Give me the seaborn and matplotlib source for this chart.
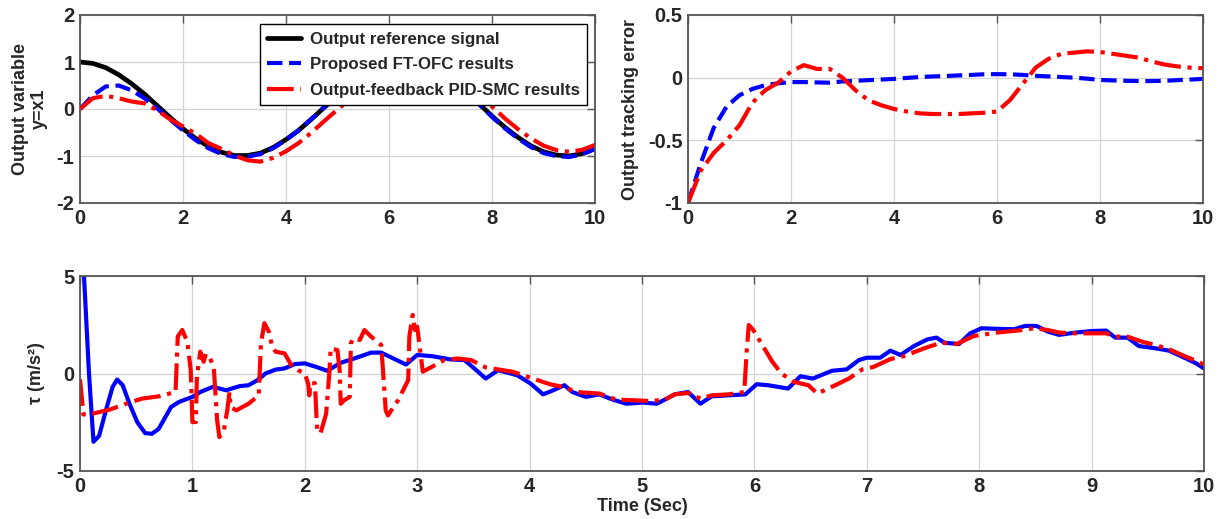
import numpy as np
import pandas as pd
import matplotlib
matplotlib.use("Agg")
import matplotlib.pyplot as plt
import seaborn as sns

# ---------------- data ----------------
t_top = np.linspace(0, 10, 41)

ref_signal = [1.00, 0.97, 0.88, 0.73, 0.54, 0.32, 0.07, -0.18, -0.42, -0.63, -0.80,
              -0.92, -0.99, -0.99, -0.94, -0.82, -0.65, -0.45, -0.21, 0.04, 0.28,
              0.51, 0.71, 0.86, 0.96, 1.00, 0.98, 0.90, 0.75, 0.57, 0.35, 0.11,
              -0.15, -0.39, -0.60, -0.78, -0.91, -0.98, -1.00, -0.95, -0.84]

y_ftofc = [0.00, 0.29, 0.48, 0.50, 0.40, 0.23, 0.01, -0.225, -0.455, -0.665, -0.838,
           -0.96, -1.02, -1.015, -0.96, -0.835, -0.66, -0.452, -0.205, 0.05, 0.293,
           0.528, 0.732, 0.887, 0.988, 1.027, 1.002, 0.915, 0.76, 0.575, 0.35, 0.102,
           -0.168, -0.412, -0.625, -0.807, -0.937, -1.005, -1.02, -0.965, -0.85]

y_pidsmc = [0.00, 0.23, 0.28, 0.23, 0.16, 0.12, -0.03, -0.22, -0.37, -0.53, -0.73,
            -0.85, -0.99, -1.09, -1.12, -1.04, -0.90, -0.72, -0.495, -0.25, -0.01,
            0.22, 0.425, 0.58, 0.69, 0.82, 0.93, 0.98, 0.90, 0.76, 0.55, 0.32,
            0.055, -0.20, -0.425, -0.62, -0.78, -0.875, -0.91, -0.87, -0.765]

e_ftofc = [-1.00, -0.68, -0.40, -0.23, -0.14, -0.09, -0.06, -0.045, -0.035, -0.035, -0.038,
           -0.04, -0.03, -0.025, -0.02, -0.015, -0.01, -0.002, 0.005, 0.01, 0.013,
           0.018, 0.022, 0.027, 0.028, 0.027, 0.022, 0.015, 0.01, 0.005, 0.0, -0.008,
           -0.018, -0.022, -0.025, -0.027, -0.027, -0.025, -0.02, -0.015, -0.01]

e_pidsmc = [-1.00, -0.74, -0.60, -0.50, -0.38, -0.20, -0.10, -0.04, 0.05, 0.10, 0.07,
            0.07, 0.00, -0.10, -0.18, -0.22, -0.25, -0.27, -0.285, -0.29, -0.29,
            -0.29, -0.285, -0.28, -0.27, -0.18, -0.05, 0.08, 0.15, 0.19, 0.20, 0.21,
            0.205, 0.19, 0.175, 0.16, 0.13, 0.105, 0.09, 0.08, 0.075]

t_tau_ftofc = [0, 0.08, 0.12, 0.17, 0.23, 0.29, 0.33, 0.38, 0.44, 0.51, 0.58, 0.64, 0.70,
               0.76, 0.81, 0.88, 1.00, 1.07, 1.18, 1.24, 1.30, 1.42, 1.50, 1.58, 1.65,
               1.74, 1.82, 1.91, 2.00, 2.10, 2.20, 2.32, 2.44, 2.59, 2.68, 2.77, 2.90,
               3.00, 3.13, 3.30, 3.42, 3.50, 3.61, 3.72, 3.89, 4.01, 4.12, 4.21, 4.31,
               4.38, 4.50, 4.62, 4.74, 4.86, 5.01, 5.13, 5.20, 5.29, 5.41, 5.52, 5.62,
               5.77, 5.92, 6.02, 6.12, 6.30, 6.41, 6.52, 6.69, 6.82, 6.93, 7.00, 7.12,
               7.21, 7.30, 7.42, 7.54, 7.62, 7.69, 7.82, 7.92, 8.02, 8.16, 8.31, 8.41,
               8.51, 8.61, 8.71, 8.86, 9.01, 9.13, 9.21, 9.32, 9.42, 9.57, 9.69, 9.84,
               9.93, 10.0]
tau_ftofc = [9.0, 0.0, -3.5, -3.2, -1.9, -0.69, -0.31, -0.6, -1.55, -2.5, -3.06, -3.09, -2.84,
             -2.23, -1.72, -1.46, -1.2, -0.95, -0.69, -0.77, -0.86, -0.65, -0.6, -0.34, 0.0,
             0.2, 0.26, 0.48, 0.52, 0.34, 0.14, 0.55, 0.77, 1.07, 1.07, 0.82, 0.46,
             0.95, 0.89, 0.72, 0.69, 0.30, -0.26, 0.17, -0.09, -0.52, -1.07, -0.86, -0.6,
             -0.95, -1.2, -1.07, -1.34, -1.55, -1.49, -1.55, -1.35, -1.07, -0.95, -1.55, -1.17,
             -1.12, -1.07, -0.55, -0.6, -0.77, -0.14, -0.26, 0.14, 0.21, 0.69, 0.81, 0.81,
             1.17, 0.95, 1.41, 1.75, 1.84, 1.58, 1.51, 2.06, 2.32, 2.29, 2.27, 2.44,
             2.44, 2.15, 1.98, 2.10, 2.18, 2.20, 1.84, 1.84, 1.41, 1.29, 1.17, 0.77,
             0.52, 0.26]

t_tau_pidsmc = [0, 0.03, 0.11, 0.26, 0.41, 0.55, 0.70, 0.85, 0.87, 0.91, 0.955, 0.985, 1.00,
                1.03, 1.04, 1.07, 1.10, 1.12, 1.15, 1.19, 1.22, 1.24, 1.28, 1.31, 1.33,
                1.34, 1.39, 1.50, 1.59, 1.61, 1.64, 1.68, 1.71, 1.74, 1.82, 1.88, 1.94,
                2.00, 2.03, 2.04, 2.05, 2.09, 2.11, 2.14, 2.19, 2.22, 2.23, 2.29, 2.31,
                2.32, 2.35, 2.40, 2.41, 2.43, 2.49, 2.53, 2.59, 2.68, 2.72, 2.74, 2.83,
                2.92, 2.93, 2.96, 2.98, 3.00, 3.05, 3.13, 3.24, 3.36, 3.48, 3.61, 3.85,
                4.03, 4.18, 4.30, 4.42, 4.62, 4.77, 4.92, 5.07, 5.20, 5.29, 5.41, 5.52,
                5.62, 5.77, 5.91, 5.93, 5.95, 5.99, 6.07, 6.16, 6.24, 6.35, 6.48, 6.56,
                6.72, 6.84, 6.96, 7.06, 7.21, 7.33, 7.51, 7.66, 7.80, 7.95, 8.16, 8.34,
                8.49, 8.61, 8.71, 8.86, 9.01, 9.13, 9.21, 9.32, 9.45, 9.57, 9.69, 9.84,
                9.93, 10.0]
tau_pidsmc = [-0.3, -2.1, -2.06, -1.86, -1.55, -1.29, -1.17, -0.95, 1.9, 2.23, 1.63, 0.17, -2.49,
              -2.49, -0.17, 1.12, 0.6, 1.0, 0.86, 0.34, -2.4, -3.26, -2.92, -1.89, -0.95,
              -1.72, -1.89, -1.55, -1.12, 1.55, 2.58, 2.15, 1.37, 1.12, 1.03, 0.43, 0.17,
              0.0, -0.52, -1.12, -0.5, -0.5, -2.92, -3.06, -2.06, 0.17, 1.29, 1.2, 0.17,
              -1.55, -1.37, -1.2, 1.55, 1.80, 1.72, 2.23, 1.89, 1.46, -1.89, -2.15, -1.37,
              -0.34, 1.89, 3.0, 2.23, 2.4, 0.09, 0.34, 0.69, 0.77, 0.69, 0.31, 0.09,
              -0.26, -0.55, -0.69, -0.95, -1.03, -1.34, -1.37, -1.41, -1.35, -1.07, -1.0, -1.29,
              -1.12, -1.07, -0.95, 1.03, 2.49, 2.23, 1.46, 0.6, 0.0, -0.43, -0.6, -1.03,
              -0.6, -0.26, 0.21, 0.34, 0.74, 0.89, 1.29, 1.58, 1.51, 1.92, 2.10, 2.20,
              2.32, 2.23, 2.10, 2.06, 2.06, 2.06, 1.89, 1.89, 1.63, 1.46, 1.24, 0.86,
              0.65, 0.46]

series_labels = ["Output reference signal", "Proposed FT-OFC results",
                 "Output-feedback PID-SMC results"]
x_ticks_top = [0, 2, 4, 6, 8, 10]
y_ticks_tl = [-2, -1, 0, 1, 2]
y_ticks_tr = [-1, -0.5, 0, 0.5]
y_ticklabels_tr = ["-1", "-0.5", "0", "0.5"]
x_ticks_bot = list(range(0, 11))
y_ticks_bot = [-5, 0, 5]

# ---------------- style ----------------
sns.set_theme(style="whitegrid")
plt.rcParams['font.family'] = ['Liberation Sans', 'DejaVu Sans']
plt.rcParams['font.weight'] = 'bold'
plt.rcParams['axes.unicode_minus'] = False

W, H = 1222, 519
fig = plt.figure(figsize=(W / 100, H / 100), dpi=100)
fig.patch.set_facecolor('white')

def px_axes(left, right, top, bottom):
    return fig.add_axes([left / W, 1 - bottom / H, (right - left) / W, (bottom - top) / H])

ax1 = px_axes(80, 595, 15, 203)
ax2 = px_axes(688, 1203, 15, 203)
ax3 = px_axes(80, 1204, 276, 471)

def style_axes(ax, fs=14.5):
    ax.set_facecolor('white')
    ax.grid(True, color='#d4d4d4', lw=0.9)
    for s in ax.spines.values():
        s.set_color('#555555')
        s.set_linewidth(1.3)
        s.set_visible(True)
    ax.tick_params(direction='in', top=True, right=True, length=6, width=1.0,
                   color='#555555', labelsize=fs, pad=4)
    for lab in ax.get_xticklabels() + ax.get_yticklabels():
        lab.set_fontweight('bold')

# --- top-left ---
sns.lineplot(x=t_top, y=ref_signal, ax=ax1, color='black', lw=3.4, label=series_labels[0],
             sort=False, estimator=None)
sns.lineplot(x=t_top, y=y_ftofc, ax=ax1, color='#0000ff', lw=3.0, linestyle='--',
             label=series_labels[1], sort=False, estimator=None)
sns.lineplot(x=t_top, y=y_pidsmc, ax=ax1, color='#ff0000', lw=3.0, linestyle='-.',
             label=series_labels[2], sort=False, estimator=None)
ax1.set_xlim(0, 10)
ax1.set_ylim(-2, 2)
ax1.set_xticks(x_ticks_top)
ax1.set_yticks(y_ticks_tl)
style_axes(ax1)
ax1.set_ylabel("Output variable\ny=x1", fontsize=13, fontweight='bold', labelpad=6)
leg = ax1.legend(loc='upper right', bbox_to_anchor=(0.985, 0.952), borderaxespad=0,
                 fontsize=12.2, frameon=True, fancybox=False, framealpha=1,
                 edgecolor='black', handlelength=2.0, handletextpad=0.5,
                 borderpad=0.45, labelspacing=0.62)
leg.get_frame().set_linewidth(1.0)
for txt in leg.get_texts():
    txt.set_fontweight('bold')
leg.set_zorder(10)

# --- top-right ---
sns.lineplot(x=t_top, y=e_ftofc, ax=ax2, color='#0000ff', lw=3.0, linestyle='--',
             sort=False, estimator=None)
sns.lineplot(x=t_top, y=e_pidsmc, ax=ax2, color='#ff0000', lw=3.0, linestyle='-.',
             sort=False, estimator=None)
ax2.set_xlim(0, 10)
ax2.set_ylim(-1, 0.5)
ax2.set_xticks(x_ticks_top)
ax2.set_yticks(y_ticks_tr)
ax2.set_yticklabels(y_ticklabels_tr)
style_axes(ax2)
ax2.set_ylabel("Output tracking error", fontsize=13, fontweight='bold', labelpad=6)

# --- bottom ---
sns.lineplot(x=t_tau_ftofc, y=tau_ftofc, ax=ax3, color='#0000ff', lw=3.0,
             sort=False, estimator=None)
sns.lineplot(x=t_tau_pidsmc, y=tau_pidsmc, ax=ax3, color='#ff0000', lw=3.0, linestyle='-.',
             sort=False, estimator=None)
ax3.set_xlim(0, 10)
ax3.set_ylim(-5, 5)
ax3.set_xticks(x_ticks_bot)
ax3.set_yticks(y_ticks_bot)
style_axes(ax3)
ax3.set_xlabel("Time (Sec)", fontsize=13, fontweight='bold', labelpad=2)
ax3.set_ylabel("τ (m/s²)", fontsize=13, fontweight='bold', labelpad=8)

fig.savefig("out.png", dpi=100, facecolor='white')
